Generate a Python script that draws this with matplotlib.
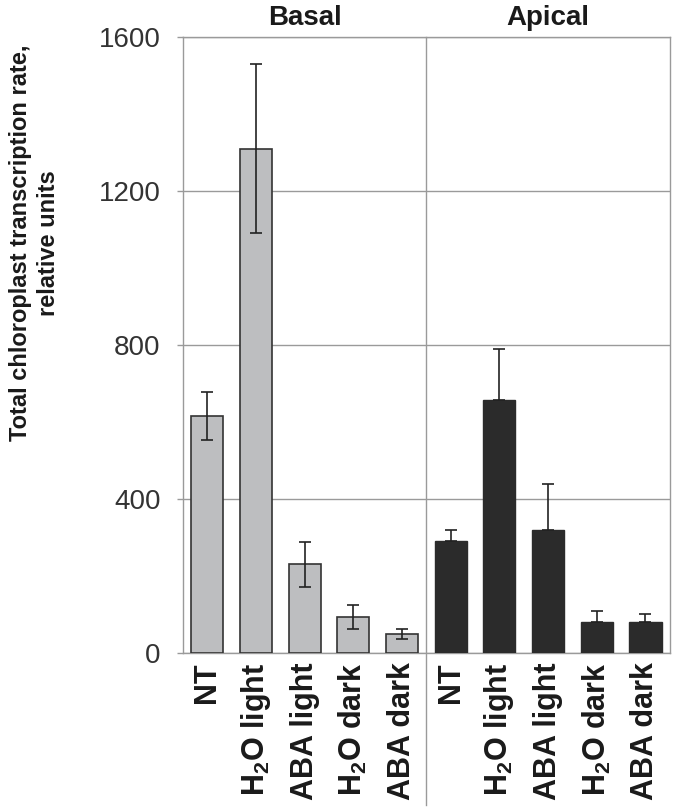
import matplotlib.pyplot as plt
from matplotlib.transforms import blended_transform_factory

plt.rcParams['font.family'] = ['Liberation Sans', 'DejaVu Sans']
plt.rcParams['mathtext.fontset'] = 'custom'
plt.rcParams['mathtext.rm'] = 'Liberation Sans:bold'
plt.rcParams['mathtext.bf'] = 'Liberation Sans:bold'

labels = ['NT', 'H$_2$O light', 'ABA light', 'H$_2$O dark', 'ABA dark']
groups = ['Basal', 'Apical']

basal_vals = [615, 1310, 230, 93, 48]
basal_err = [62, 220, 58, 32, 13]
apical_vals = [290, 656, 320, 79, 79]
apical_err = [30, 133, 120, 29, 21]

fig = plt.figure(figsize=(6.8, 8.1), dpi=100)
ax = fig.add_axes([0.269, 0.194, 0.716, 0.760])

n = len(labels)
xb = list(range(n))
xa = [i + n for i in range(n)]
grid_c = '#9a9a9a'

ax.bar(xb, basal_vals, width=0.66, color='#bdbec0', edgecolor='#333333', linewidth=1.2, zorder=3)
ax.errorbar(xb, basal_vals, yerr=basal_err, fmt='none', ecolor='#222222',
            elinewidth=1.2, capsize=4.5, capthick=1.2, zorder=4)
ax.bar(xa, apical_vals, width=0.66, color='#2b2b2b', edgecolor='#2b2b2b', linewidth=1.0, zorder=3)
ax.errorbar(xa, apical_vals, yerr=[[0] * n, apical_err], fmt='none', ecolor='#222222',
            elinewidth=1.2, capsize=4.5, capthick=1.2, zorder=4)

ax.set_xlim(-0.5, 2 * n - 0.5)
ax.set_ylim(0, 1600)
ax.set_yticks([0, 400, 800, 1200, 1600])
ax.tick_params(axis='y', labelsize=20, colors=grid_c, labelcolor='#333333', length=4, width=1, pad=12)
ax.yaxis.grid(True, color=grid_c, linewidth=1)
ax.set_axisbelow(True)
for s in ax.spines.values():
    s.set_color(grid_c)
    s.set_linewidth(1)

ax.set_xticks(xb + xa)
ax.set_xticklabels(labels + labels, rotation=90, fontsize=22, fontweight='bold', color='#1a1a1a')
ax.tick_params(axis='x', length=0, pad=7)

# divider between groups, running down through the label area
tr = blended_transform_factory(ax.transData, ax.transAxes)
ax.plot([n - 0.5, n - 0.5], [-0.247, 1], transform=tr, color=grid_c, linewidth=1,
        clip_on=False, zorder=2)

for i, g in enumerate(groups):
    ax.text(i * n + (n - 1) / 2, 1.01, g, transform=tr, ha='center', va='bottom',
            fontsize=20, fontweight='bold', color='#1a1a1a')

fig.text(0.051, 0.70, 'Total chloroplast transcription rate,\nrelative units', fontsize=17,
         fontweight='bold', color='#1a1a1a', rotation=90, ha='center', va='center',
         multialignment='center', linespacing=1.25)

fig.savefig('out.png', dpi=100)
